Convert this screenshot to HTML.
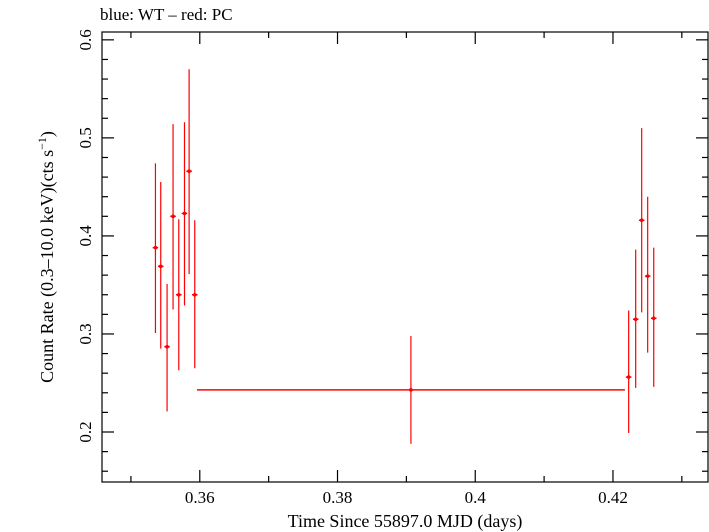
<!DOCTYPE html>
<html><head><meta charset="utf-8"><style>
html,body{margin:0;padding:0;background:#fff;}
svg{display:block;font-family:"Liberation Serif",serif;}
</style></head><body>
<svg id="chart" width="709" height="532" xmlns="http://www.w3.org/2000/svg">
<text x="100" y="20" font-size="17">blue: WT – red: PC</text>
<rect x="102" y="32" width="606" height="450" fill="none" stroke="#000" stroke-width="1.2"/>
<g id="axes"></g>
<g id="marks"></g>
<text x="405" y="527" font-size="18" text-anchor="middle">Time Since 55897.0 MJD (days)</text>
<text transform="translate(53,257) rotate(-90)" font-size="18" text-anchor="middle">Count Rate (0.3–10.0 keV)(cts s<tspan font-size="12" dy="-7">−1</tspan><tspan dy="7">)</tspan></text>
</svg>
<script>
const times=[0.35356,0.35433,0.35525,0.35612,0.35695,0.35778,0.35845,0.35927,0.39066,0.42228,0.42330,0.42417,0.42504,0.42592];
const timeErr=[0.0004,0.0004,0.0004,0.0004,0.0004,0.0004,0.0004,0.0004,0.03107,0.0004,0.0004,0.0004,0.0004,0.0004];
const rates=[0.388,0.369,0.287,0.420,0.340,0.423,0.466,0.340,0.243,0.256,0.315,0.416,0.359,0.316];
const rateUp=[0.474,0.455,0.351,0.514,0.417,0.516,0.570,0.416,0.298,0.324,0.386,0.510,0.440,0.388];
const rateLo=[0.301,0.285,0.221,0.325,0.263,0.329,0.361,0.265,0.188,0.199,0.245,0.322,0.281,0.246];
const xTicks=[0.36,0.38,0.40,0.42];
const xTickLabels=["0.36","0.38","0.4","0.42"];
const yTicks=[0.2,0.3,0.4,0.5,0.6];
const yTickLabels=["0.2","0.3","0.4","0.5","0.6"];

const L=102,R=708,T=32,B=482;
const xMin=0.3458,xMax=0.4338,yMin=0.149,yMax=0.608;
const xs=v=>L+(v-xMin)/(xMax-xMin)*(R-L);
const ys=v=>B-(v-yMin)/(yMax-yMin)*(B-T);
const NS="http://www.w3.org/2000/svg";
function mk(tag,attrs,parent){const e=document.createElementNS(NS,tag);for(const k in attrs)e.setAttribute(k,attrs[k]);parent.appendChild(e);return e;}
const axes=document.getElementById('axes'),marks=document.getElementById('marks');
// x ticks
for(let v=0.35;v<=0.4301;v+=0.01){
 const x=xs(v);const major=xTicks.some(t=>Math.abs(t-v)<1e-6);const len=major?12:6;
 const a=mk('line',{x1:x,x2:x,y1:B,y2:B-len,stroke:'#000','stroke-width':1.2},axes);
 
 
 const b=mk('line',{x1:x,x2:x,y1:T,y2:T+len,stroke:'#000','stroke-width':1.2},axes);
 
 
}
xTicks.forEach((v,i)=>{const t=mk('text',{x:xs(v),y:503,'font-size':17,'text-anchor':'middle'},axes);t.textContent=xTickLabels[i];
 
 });
// y ticks
for(let v=0.16;v<=0.6001;v+=0.02){
 const y=ys(v);const major=yTicks.some(t=>Math.abs(t-v)<1e-6);const len=major?12:6;
 const a=mk('line',{x1:L,x2:L+len,y1:y,y2:y,stroke:'#000','stroke-width':1.2},axes);
 
 
 const b=mk('line',{x1:R,x2:R-len,y1:y,y2:y,stroke:'#000','stroke-width':1.2},axes);
 
 
}
yTicks.forEach((v,i)=>{const t=mk('text',{transform:`translate(91,${ys(v)}) rotate(-90)`,'font-size':17,'text-anchor':'middle'},axes);t.textContent=yTickLabels[i];
 
 });
// data
times.forEach((t,i)=>{
 const g=mk('g',{},marks);
 
 
 mk('line',{x1:xs(t),x2:xs(t),y1:ys(rateUp[i]),y2:ys(rateLo[i]),stroke:'#f00','stroke-width':1.2},g);
 mk('line',{x1:xs(t-timeErr[i]),x2:xs(t+timeErr[i]),y1:ys(rates[i]),y2:ys(rates[i]),stroke:'#f00','stroke-width':1.5},g);
 mk('circle',{cx:xs(t),cy:ys(rates[i]),r:1.8,fill:'#f00'},g);
});
</script>
</body></html>
